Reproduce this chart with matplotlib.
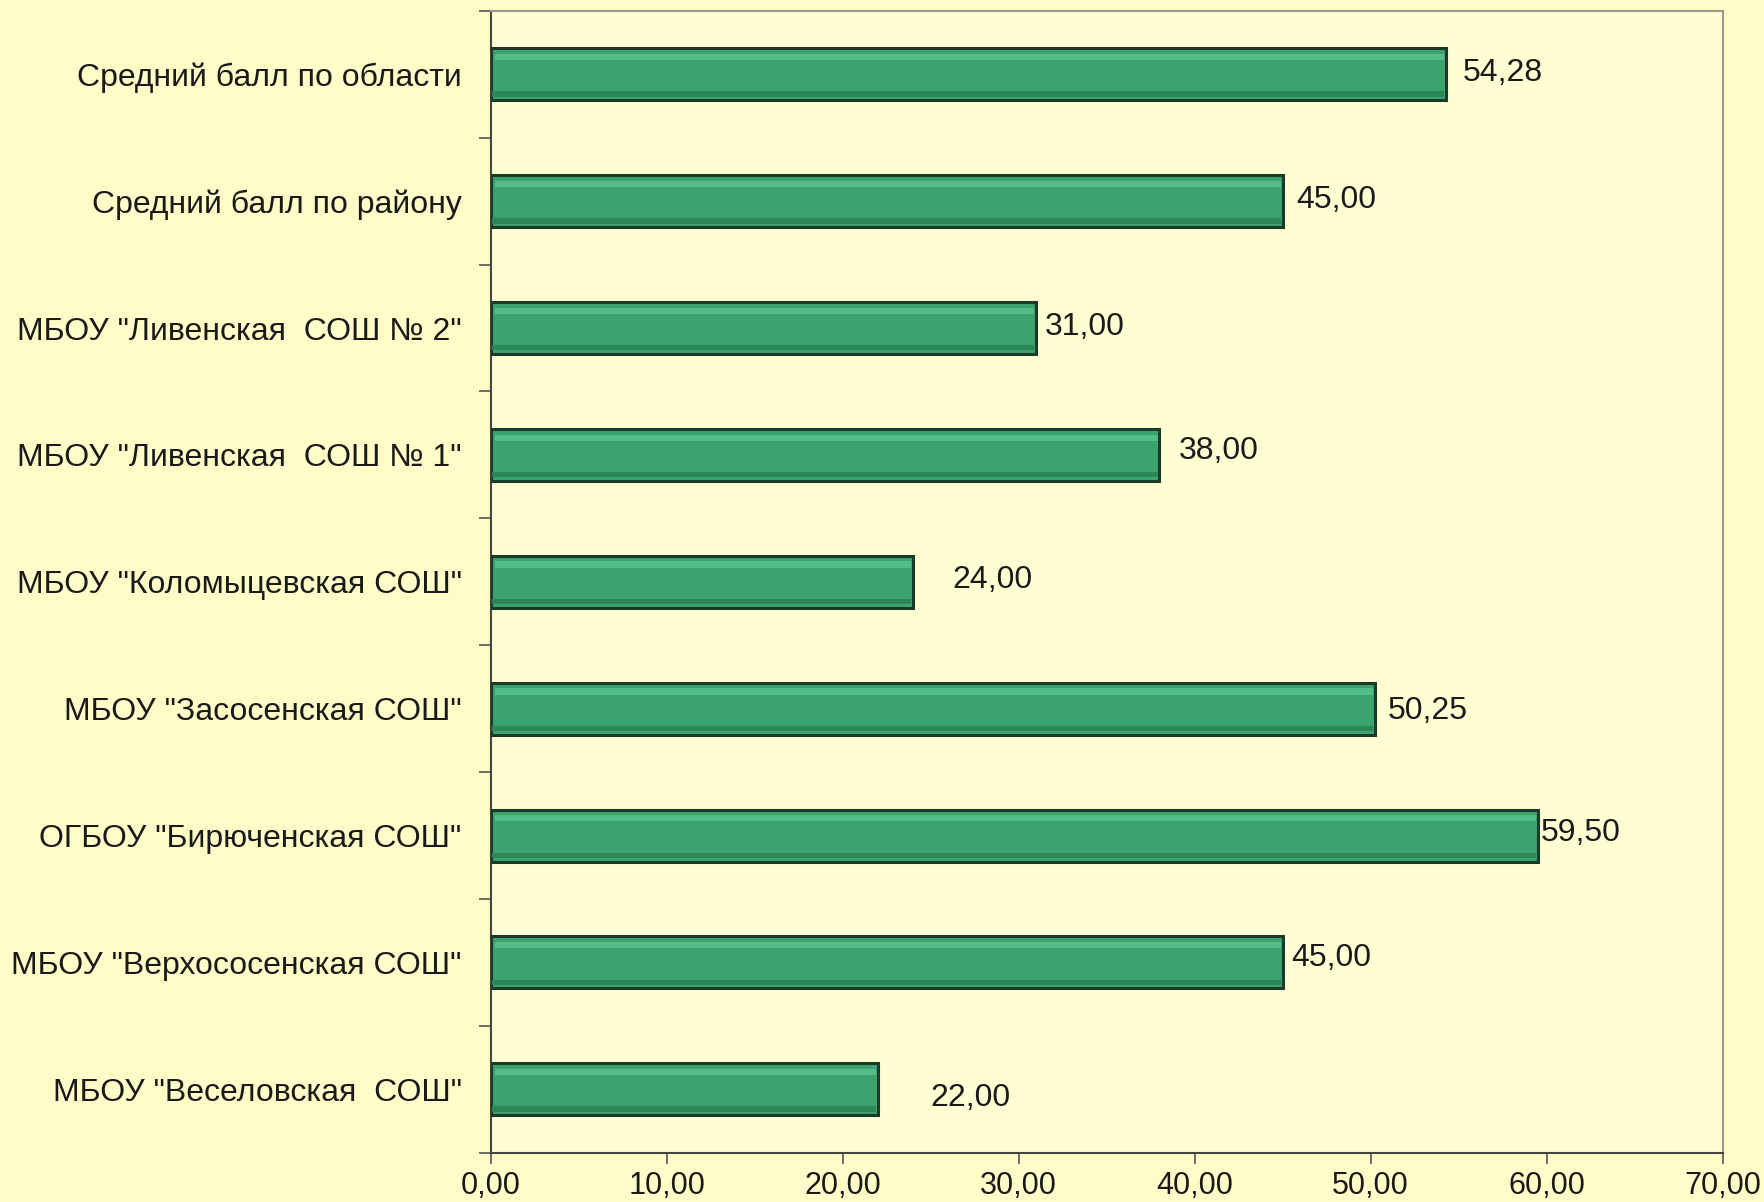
import numpy as np
import matplotlib.pyplot as plt
from matplotlib.ticker import FuncFormatter, MultipleLocator, FixedLocator

# Данные (сверху вниз)
categories = [
    "Средний балл по области",
    "Средний балл по району",
    'МБОУ "Ливенская  СОШ № 2"',
    'МБОУ "Ливенская  СОШ № 1"',
    'МБОУ "Коломыцевская СОШ"',
    'МБОУ "Засосенская СОШ"',
    'ОГБОУ "Бирюченская СОШ"',
    'МБОУ "Верхососенская СОШ"',
    'МБОУ "Веселовская  СОШ"',
]
values = [54.28, 45.00, 31.00, 38.00, 24.00, 50.25, 59.50, 45.00, 22.00]

# смещения подписей (в пунктах), как в исходной диаграмме
label_dx = [12, 10, 6, 14, 28, 9, 2, 6, 38]
label_dy = [1, 1, 1, 3, 1, -2, 2, 3, -6]

BG = "#FFFCC8"
PLOT_BG = "#FFFDD2"
BAR = "#3AA36E"
BAR_LIGHT = "#52BD88"
EDGE = "#1C3A2A"

plt.rcParams['font.family'] = ['Liberation Sans', 'DejaVu Sans']

fig = plt.figure(figsize=(17.65, 12.02), dpi=100, facecolor=BG)
ax = fig.add_axes([0.278, 0.041, 0.698, 0.950])
ax.set_facecolor(PLOT_BG)

y = np.arange(len(categories))
h = 0.41
ax.barh(y, values, height=h, color=BAR, edgecolor=EDGE, linewidth=2.2, zorder=3)
# блик сверху
ax.barh(y - h * 0.33, np.array(values) - 0.35, left=0.25, height=h * 0.12,
        color=BAR_LIGHT, linewidth=0, zorder=4)
# тень снизу
ax.barh(y + h * 0.38, np.array(values) - 0.2, left=0.1, height=h * 0.1,
        color="#2C8655", linewidth=0, zorder=4)

for i, v in enumerate(values):
    ax.annotate(f"{v:.2f}".replace(".", ","), xy=(v, y[i]),
                xytext=(label_dx[i], label_dy[i]), textcoords="offset points",
                ha="left", va="center", fontsize=23, color="#1a1a1a")

ax.set_xlim(0, 70)
ax.set_ylim(len(categories) - 0.5, -0.5)
ax.xaxis.set_major_locator(MultipleLocator(10))
ax.xaxis.set_major_formatter(FuncFormatter(lambda x, p: f"{x:.2f}".replace(".", ",")))
ax.set_yticks(y)
ax.set_yticklabels(categories)
ax.yaxis.set_minor_locator(FixedLocator(np.arange(-0.5, len(categories), 1.0)))

ax.tick_params(axis="y", which="major", length=0, pad=21, labelsize=23, labelcolor="#1a1a1a")
ax.tick_params(axis="y", which="minor", length=9, width=1.2, color="#555555", direction="out")
ax.tick_params(axis="x", which="major", length=8, width=1.2, color="#555555",
               direction="out", labelsize=22, labelcolor="#1a1a1a", pad=5)

for side in ["left", "bottom"]:
    ax.spines[side].set_color("#444444")
    ax.spines[side].set_linewidth(1.5)
for side in ["top", "right"]:
    ax.spines[side].set_color("#999990")
    ax.spines[side].set_linewidth(1.5)

fig.savefig("out.png", dpi=100, facecolor=BG)
